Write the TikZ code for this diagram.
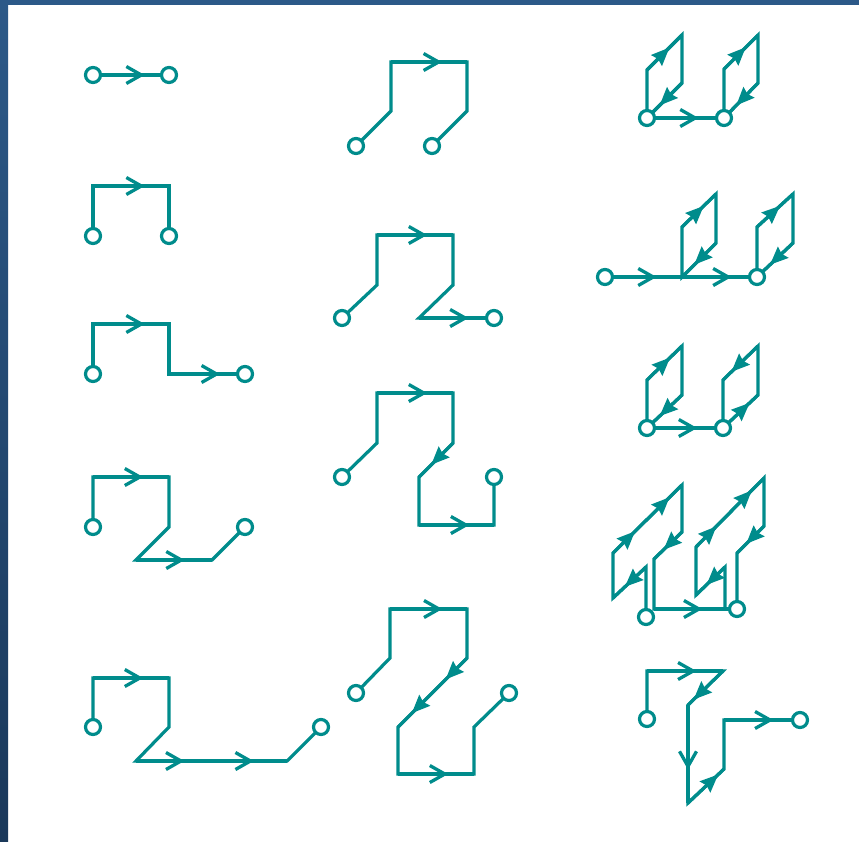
\documentclass[tikz,border=0pt]{standalone}
\usetikzlibrary{arrows.meta,decorations.markings}
\definecolor{tealline}{RGB}{0,140,140}
\definecolor{frameblueA}{RGB}{44,89,136}
\definecolor{frameblueB}{RGB}{26,56,90}
\begin{document}
\begin{tikzpicture}[x=1pt,y=-1pt,
  wire/.style={draw=tealline,line width=3.2pt},
  oa/.style={postaction={decorate,decoration={markings,mark=at position #1 with {\arrow{Straight Barb[length=15pt,width=17pt,line width=3.3pt]}}}}},
  oa/.default=0.65,
  fa/.style={postaction={decorate,decoration={markings,mark=at position #1 with {\arrow{Stealth[length=18pt,width=15pt,inset=2pt]}}}}},
  fa/.default=0.56,
  term/.style={circle,draw=tealline,fill=white,line width=3.2pt,inner sep=0pt,minimum size=15pt}]
\path[use as bounding box] (0,0) rectangle (859,841);
\fill[white] (0,0) rectangle (859,841);
\shade[top color=frameblueA,bottom color=frameblueB] (0,0) rectangle (8,841);
\fill[frameblueA] (0,0) rectangle (859,5);

% ---------- column 1 ----------
% fig 1
\coordinate (p1a) at (93,75); \coordinate (p1b) at (169,75);
\draw[wire,oa=0.68] (p1a) -- (p1b);
\node[term] (t1a) at (p1a) {}; \node[term] (t1b) at (p1b) {};

% fig 2
\coordinate (p2a) at (93,236); \coordinate (p2b) at (93,186);
\coordinate (p2c) at (169,186); \coordinate (p2d) at (169,236);
\draw[wire] (p2a)--(p2b)--(p2c)--(p2d);
\draw[wire,oa=0.68] (p2b)--(p2c);
\node[term] (t2a) at (p2a) {}; \node[term] (t2b) at (p2d) {};

% fig 3
\coordinate (p3a) at (93,374); \coordinate (p3b) at (93,324);
\coordinate (p3c) at (169,324); \coordinate (p3d) at (169,374);
\coordinate (p3e) at (245,374);
\draw[wire] (p3a)--(p3b)--(p3c)--(p3d)--(p3e);
\draw[wire,oa=0.68] (p3b)--(p3c);
\draw[wire,oa=0.67] (p3d)--(p3e);
\node[term] (t3a) at (p3a) {}; \node[term] (t3b) at (p3e) {};

% fig 4
\coordinate (p4a) at (93,527); \coordinate (p4b) at (93,477);
\coordinate (p4c) at (169,477); \coordinate (p4d) at (169,527);
\coordinate (p4e) at (136,560); \coordinate (p4f) at (212,560);
\coordinate (p4g) at (245,527);
\draw[wire] (p4a)--(p4b)--(p4c)--(p4d)--(p4e)--(p4f)--(p4g);
\draw[wire,oa=0.66] (p4b)--(p4c);
\draw[wire,oa=0.64] (p4e)--(p4f);
\node[term] (t4a) at (p4a) {}; \node[term] (t4b) at (p4g) {};

% fig 5
\coordinate (p5a) at (93,727); \coordinate (p5b) at (93,678);
\coordinate (p5c) at (169,678); \coordinate (p5d) at (169,727);
\coordinate (p5e) at (136,761); \coordinate (p5f) at (287,761);
\coordinate (p5g) at (321,727);
\draw[wire] (p5a)--(p5b)--(p5c)--(p5d)--(p5e)--(p5f)--(p5g);
\draw[wire,oa=0.66] (p5b)--(p5c);
\draw[wire,oa=0.32,oa=0.78] (p5e)--(p5f);
\node[term] (t5a) at (p5a) {}; \node[term] (t5b) at (p5g) {};

% ---------- column 2 ----------
% fig 6
\coordinate (p6a) at (356,146); \coordinate (p6b) at (391,111);
\coordinate (p6c) at (391,62); \coordinate (p6d) at (467,62);
\coordinate (p6e) at (467,111); \coordinate (p6f) at (432,146);
\draw[wire] (p6a)--(p6b)--(p6c)--(p6d)--(p6e)--(p6f);
\draw[wire,oa=0.67] (p6c)--(p6d);
\node[term] (t6a) at (p6a) {}; \node[term] (t6b) at (p6f) {};

% fig 7
\coordinate (p7a) at (342,318); \coordinate (p7b) at (377,285);
\coordinate (p7c) at (377,235); \coordinate (p7d) at (453,235);
\coordinate (p7e) at (453,285); \coordinate (p7f) at (419,318);
\coordinate (p7g) at (494,318);
\draw[wire] (p7a)--(p7b)--(p7c)--(p7d)--(p7e)--(p7f)--(p7g);
\draw[wire,oa=0.66] (p7c)--(p7d);
\draw[wire,oa=0.66] (p7f)--(p7g);
\node[term] (t7a) at (p7a) {}; \node[term] (t7b) at (p7g) {};

% fig 8
\coordinate (p8a) at (342,477); \coordinate (p8b) at (377,443);
\coordinate (p8c) at (377,393); \coordinate (p8d) at (453,393);
\coordinate (p8e) at (453,443); \coordinate (p8f) at (419,477);
\coordinate (p8g) at (419,525); \coordinate (p8h) at (494,525);
\coordinate (p8i) at (494,477);
\draw[wire] (p8a)--(p8b)--(p8c)--(p8d)--(p8e)--(p8f)--(p8g)--(p8h)--(p8i);
\draw[wire,oa=0.66] (p8c)--(p8d);
\draw[wire,fa=0.64] (p8e)--(p8f);
\draw[wire,oa=0.67] (p8g)--(p8h);
\node[term] (t8a) at (p8a) {}; \node[term] (t8b) at (p8i) {};

% fig 9
\coordinate (p9a) at (356,693); \coordinate (p9b) at (390,658);
\coordinate (p9c) at (390,609); \coordinate (p9d) at (467,609);
\coordinate (p9e) at (467,658); \coordinate (p9f) at (398,727);
\coordinate (p9g) at (398,774); \coordinate (p9h) at (474,774);
\coordinate (p9i) at (474,727); \coordinate (p9j) at (509,693);
\draw[wire] (p9a)--(p9b)--(p9c)--(p9d)--(p9e)--(p9f)--(p9g)--(p9h)--(p9i)--(p9j);
\draw[wire,oa=0.68] (p9c)--(p9d);
\draw[wire,fa=0.31,fa=0.8] (p9e)--(p9f);
\draw[wire,oa=0.66] (p9g)--(p9h);
\node[term] (t9a) at (p9a) {}; \node[term] (t9b) at (p9j) {};

% ---------- column 3 ----------
% fig 10
\coordinate (q1) at (647,118); \coordinate (q2) at (724,118);
\coordinate (q1b) at (647,70); \coordinate (q1c) at (682,35); \coordinate (q1d) at (682,83);
\coordinate (q2b) at (724,69); \coordinate (q2c) at (758,35); \coordinate (q2d) at (758,83);
\draw[wire] (q1)--(q1b)--(q1c)--(q1d)--cycle;
\draw[wire] (q2)--(q2b)--(q2c)--(q2d)--cycle;
\draw[wire,fa=0.64] (q1b)--(q1c);
\draw[wire,fa=0.64] (q1d)--(q1);
\draw[wire,fa=0.64] (q2b)--(q2c);
\draw[wire,fa=0.64] (q2d)--(q2);
\draw[wire,oa=0.67] (q1)--(q2);
\node[term] (t10a) at (q1) {}; \node[term] (t10b) at (q2) {};

% fig 11
\coordinate (r1) at (605,277); \coordinate (rj) at (682,277); \coordinate (r2) at (757,277);
\coordinate (rjb) at (682,227); \coordinate (rjc) at (716,194); \coordinate (rjd) at (716,243);
\coordinate (r2b) at (757,227); \coordinate (r2c) at (793,194); \coordinate (r2d) at (793,243);
\draw[wire] (r1)--(r2);
\draw[wire] (rj)--(rjb)--(rjc)--(rjd)--cycle;
\draw[wire] (r2)--(r2b)--(r2c)--(r2d)--cycle;
\draw[wire,oa=0.67] (r1)--(rj);
\draw[wire,oa=0.66] (rj)--(r2);
\draw[wire,fa=0.64] (rjb)--(rjc);
\draw[wire,fa=0.64] (rjd)--(rj);
\draw[wire,fa=0.64] (r2b)--(r2c);
\draw[wire,fa=0.64] (r2d)--(r2);
\node[term] (t11a) at (r1) {}; \node[term] (t11b) at (r2) {};

% fig 12
\coordinate (s1) at (647,428); \coordinate (s2) at (723,428);
\coordinate (s1b) at (647,380); \coordinate (s1c) at (682,346); \coordinate (s1d) at (682,395);
\coordinate (s2b) at (723,380); \coordinate (s2c) at (758,346); \coordinate (s2d) at (758,395);
\draw[wire] (s1)--(s1b)--(s1c)--(s1d)--cycle;
\draw[wire] (s2)--(s2d)--(s2c)--(s2b)--cycle;
\draw[wire,oa=0.66] (s1)--(s2);
\draw[wire,fa=0.66] (s1b)--(s1c);
\draw[wire,fa=0.64] (s1d)--(s1);
\draw[wire,fa=0.76] (s2)--(s2d);
\draw[wire,fa=0.76] (s2c)--(s2b);
\node[term] (t12a) at (s1) {}; \node[term] (t12b) at (s2) {};

% fig 13
\coordinate (u1) at (646,617); \coordinate (u2) at (646,567);
\coordinate (u3) at (613,598); \coordinate (u4) at (613,553);
\coordinate (u5) at (682,485); \coordinate (u6) at (682,532);
\coordinate (u7) at (654,559); \coordinate (u8) at (654,609);
\coordinate (u9) at (725,609); \coordinate (u10) at (725,567);
\coordinate (u11) at (696,595); \coordinate (u12) at (696,547);
\coordinate (u13) at (764,478); \coordinate (u14) at (764,526);
\coordinate (u15) at (737,553); \coordinate (u16) at (737,609);
\draw[wire] (u1)--(u2)--(u3)--(u4)--(u5)--(u6)--(u7)--(u8)--(u9)--(u10)--(u11)--(u12)--(u13)--(u14)--(u15)--(u16);
\draw[wire] (u9)--(u16);
\draw[wire,fa=0.64] (u2)--(u3);
\draw[wire,fa=0.32,fa=0.82] (u4)--(u5);
\draw[wire,fa=0.66] (u6)--(u7);
\draw[wire,oa=0.68] (u8)--(u9);
\draw[wire,fa=0.64] (u10)--(u11);
\draw[wire,fa=0.3,fa=0.82] (u12)--(u13);
\draw[wire,fa=0.66] (u14)--(u15);
\node[term] (t13a) at (u1) {}; \node[term] (t13b) at (u16) {};

% fig 14
\coordinate (v1) at (647,719); \coordinate (v2) at (647,671);
\coordinate (v3) at (723,671); \coordinate (v4) at (688,705);
\coordinate (v5) at (688,803); \coordinate (v6) at (724,769);
\coordinate (v7) at (724,720); \coordinate (v8) at (800,720);
\draw[wire] (v1)--(v2)--(v3)--(v4)--(v5)--(v6)--(v7)--(v8);
\draw[wire,oa=0.65] (v2)--(v3);
\draw[wire,fa=0.84] (v3)--(v4);
\draw[wire,oa=0.66] (v4)--(v5);
\draw[wire,fa=0.84] (v5)--(v6);
\draw[wire,oa=0.65] (v7)--(v8);
\node[term] (t14a) at (v1) {}; \node[term] (t14b) at (v8) {};
\end{tikzpicture}
\end{document}
